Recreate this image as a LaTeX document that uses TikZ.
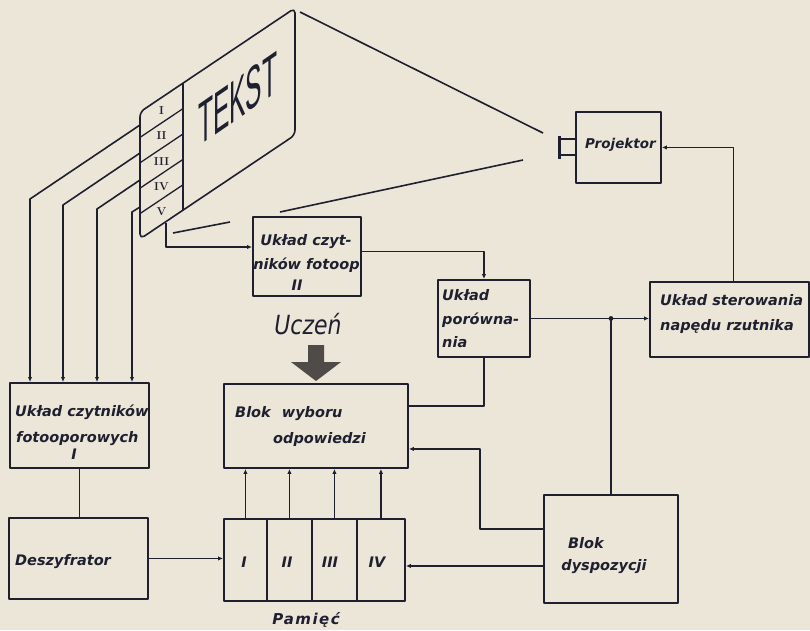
\documentclass[tikz,border=0pt]{standalone}
\usepackage{fontspec}
\usepackage{graphicx}
\setmainfont{DejaVu Sans}
\newfontfamily\lmrfont{Latin Modern Roman}
\newfontfamily\tekstfont{Liberation Sans}
\usetikzlibrary{arrows.meta,calc}
\definecolor{paper}{HTML}{ECE6D9}
\definecolor{ink}{HTML}{1E2030}
\definecolor{heavy}{HTML}{4E4B49}
\begin{document}
\begin{tikzpicture}[x=1pt,y=-1pt,line join=round,
  box/.style={draw=ink,line width=1.9pt,rectangle,inner sep=0pt,anchor=north west},
  conn/.style={draw=ink,line width=1.6pt},
  arr/.style={conn,-{Latex[length=5pt,width=4.5pt]}},
  lbl/.style={inner sep=0pt,text=ink,font=\fontsize{14.5}{25}\selectfont\bfseries\itshape},
  roman/.style={inner sep=0pt,text=ink,font=\lmrfont\bfseries\fontsize{11.5}{11.5}\selectfont}]
\fill[paper] (0,0) rectangle (810,630);
\useasboundingbox (0,0) rectangle (810,630);

% ---------- screen ----------
\draw[conn,rounded corners=5pt] (140,180) -- (140,112) -- (295,8) -- (295,135) -- (140,239) -- cycle;
\draw[ink,line width=2.2pt] (183,83.2) -- (183,210.1);
\foreach \k in {1,...,4}{
  \draw[conn,line width=1.3pt] (140,{112+25.4*\k}) -- (183,{83.2+25.4*\k});
}
\node[roman] (r1) at (161.5,110.4) {I};
\node[roman] (r2) at (161.5,135.8) {II};
\node[roman] (r3) at (161.5,161.2) {III};
\node[roman] (r4) at (161.5,186.6) {IV};
\node[roman] (r5) at (161.5,212.0) {V};
\begin{scope}[shift={(198,147)},yslant=0.69,xscale=0.41]
  \node[transform shape,anchor=base west,inner sep=0pt,text=ink,
        font=\tekstfont\fontsize{60}{60}\selectfont] (tekst) at (0,0) {TEKST};
\end{scope}
\coordinate (s1) at (140,125);
\coordinate (s2) at (140,153);
\coordinate (s3) at (140,180);
\coordinate (s4) at (140,207);
\coordinate (sV) at (166,223);
\coordinate (b1) at (30,199);
\coordinate (b2) at (63,205);
\coordinate (b3) at (97,209);
\coordinate (b4) at (132,212);
\coordinate (bV) at (166,247);

% ---------- boxes ----------
\node[box,minimum width=139pt,minimum height=85pt] (cz1) at (9,382) {};
\node[box,minimum width=139pt,minimum height=81pt] (desz) at (8,517) {};
\node[box,minimum width=184pt,minimum height=84pt] (wyb) at (223,383) {};
\node[box,minimum width=43pt,minimum height=82pt] (p1) at (223,518) {};
\node[box,minimum width=45pt,minimum height=82pt] (p2) at (266,518) {};
\node[box,minimum width=45pt,minimum height=82pt] (p3) at (311,518) {};
\node[box,minimum width=48pt,minimum height=82pt] (p4) at (356,518) {};
\node[box,minimum width=108pt,minimum height=79pt] (cz2) at (252,216) {};
\node[box,minimum width=92pt,minimum height=77pt] (porow) at (437,279) {};
\node[box,minimum width=159pt,minimum height=75pt] (ster) at (649,281) {};
\node[box,minimum width=85pt,minimum height=71pt] (proj) at (575,111) {};
\node[box,minimum width=134pt,minimum height=108pt] (dysp) at (543,494) {};

% ---------- labels ----------
\node[lbl,anchor=base west] (cz1a) at (15,416) {Układ czytników};
\node[lbl,anchor=base west] (cz1b) at (16,442) {fotooporowych};
\node[lbl,anchor=base] (cz1c) at (74,459) {I};
\node[lbl,anchor=base west] (desza) at (15,565) {Deszyfrator};
\node[lbl,anchor=base west] (wyba) at (235,417) {Blok\hspace{6pt} wyboru};
\node[lbl,anchor=base west] (wybb) at (273,443) {odpowiedzi};
\node[lbl,anchor=base] (cz2a) at (306,245) {Układ czyt-};
\node[lbl,anchor=base] (cz2b) at (306.5,269) {ników fotoop};
\node[lbl,anchor=base] (cz2c) at (297,290) {II};
\node[lbl,anchor=base west] (pora) at (442,300) {Układ};
\node[lbl,anchor=base west] (porb) at (442,324) {porówna-};
\node[lbl,anchor=base west] (porc) at (442,347) {nia};
\node[lbl,anchor=base west] (stera) at (660,305) {Układ sterowania};
\node[lbl,anchor=base west] (sterb) at (660,330) {napędu rzutnika};
\node[lbl,anchor=base] (dyspa) at (586,548) {Blok};
\node[lbl,anchor=base] (dyspb) at (604,570) {dyspozycji};
\node[lbl,anchor=base west,font=\fontsize{13.5}{16}\selectfont\bfseries\itshape] (proja) at (585,148) {Projektor};
\node[lbl,anchor=base] (pam1) at (244,567) {I};
\node[lbl,anchor=base] (pam2) at (287,567) {II};
\node[lbl,anchor=base] (pam3) at (330,567) {III};
\node[lbl,anchor=base] (pam4) at (377,567) {IV};
\node[lbl,anchor=base,font=\fontsize{15}{18}\selectfont\bfseries\itshape\addfontfeatures{LetterSpace=10}] (pamlbl) at (306,624) {Pamięć};
\node[inner sep=0pt,anchor=base,text=ink,font=\fontsize{22}{26}\selectfont\itshape] (uczen) at (308,334) {\scalebox{1}[1.2]{Uczeń}};

% ---------- student arrow ----------
\fill[heavy] (308,345) -- (324,345) -- (324,362) -- (341,362) -- (316,381) -- (291,362) -- (308,362) -- cycle;

% ---------- connectors ----------
\draw[arr] (s1) -- (b1) -- (b1 |- cz1.north);
\draw[arr] (s2) -- (b2) -- (b2 |- cz1.north);
\draw[arr] (s3) -- (b3) -- (b3 |- cz1.north);
\draw[arr] (s4) -- (b4) -- (b4 |- cz1.north);
\draw[arr] (sV) -- (bV) -- (bV -| cz2.west);
\draw[conn] (cz1.south) -- (cz1.south |- desz.north);
\draw[arr] (desz.east) -- (desz.east -| p1.west);
\foreach \p in {p1,p2,p3,p4}{
  \draw[arr] (\p.north) -- (\p.north |- wyb.south);
}
\draw[arr] ($(cz2.east)+(0,-5)$) -| (porow.north);
\draw[arr] (porow.east) -- (porow.east -| ster.west);
\coordinate (junc) at (dysp.north |- porow.east);
\fill[ink] (junc) circle (2.4pt);
\draw[conn] (junc) -- (dysp.north);
\draw[arr] ($(ster.north)+(4,0)$) |- (proj.east);
\draw[conn] (porow.south) |- ($(wyb.east)+(0,-20)$);
\draw[arr] ($(dysp.west)+(0,-20)$) -- ++(-63,0) |- ($(wyb.east)+(0,23)$);
\coordinate (d8) at ($(dysp.west)+(0,17)$);
\draw[arr] (d8) -- (d8 -| p4.east);

% ---------- projector lens and rays ----------
\coordinate (lensT) at (559,136);
\coordinate (lensB) at (559,159);
\draw[ink,line width=3pt] (lensT) -- (lensB);
\draw[conn] (559,139) -- (proj.west |- 0,139);
\draw[conn] (559,155) -- (proj.west |- 0,155);
\draw[conn] (300,12) -- (543,133);
\draw[conn] (523,160) -- (280,212);
\draw[conn] (230,222) -- (173,233);
\end{tikzpicture}
\end{document}
